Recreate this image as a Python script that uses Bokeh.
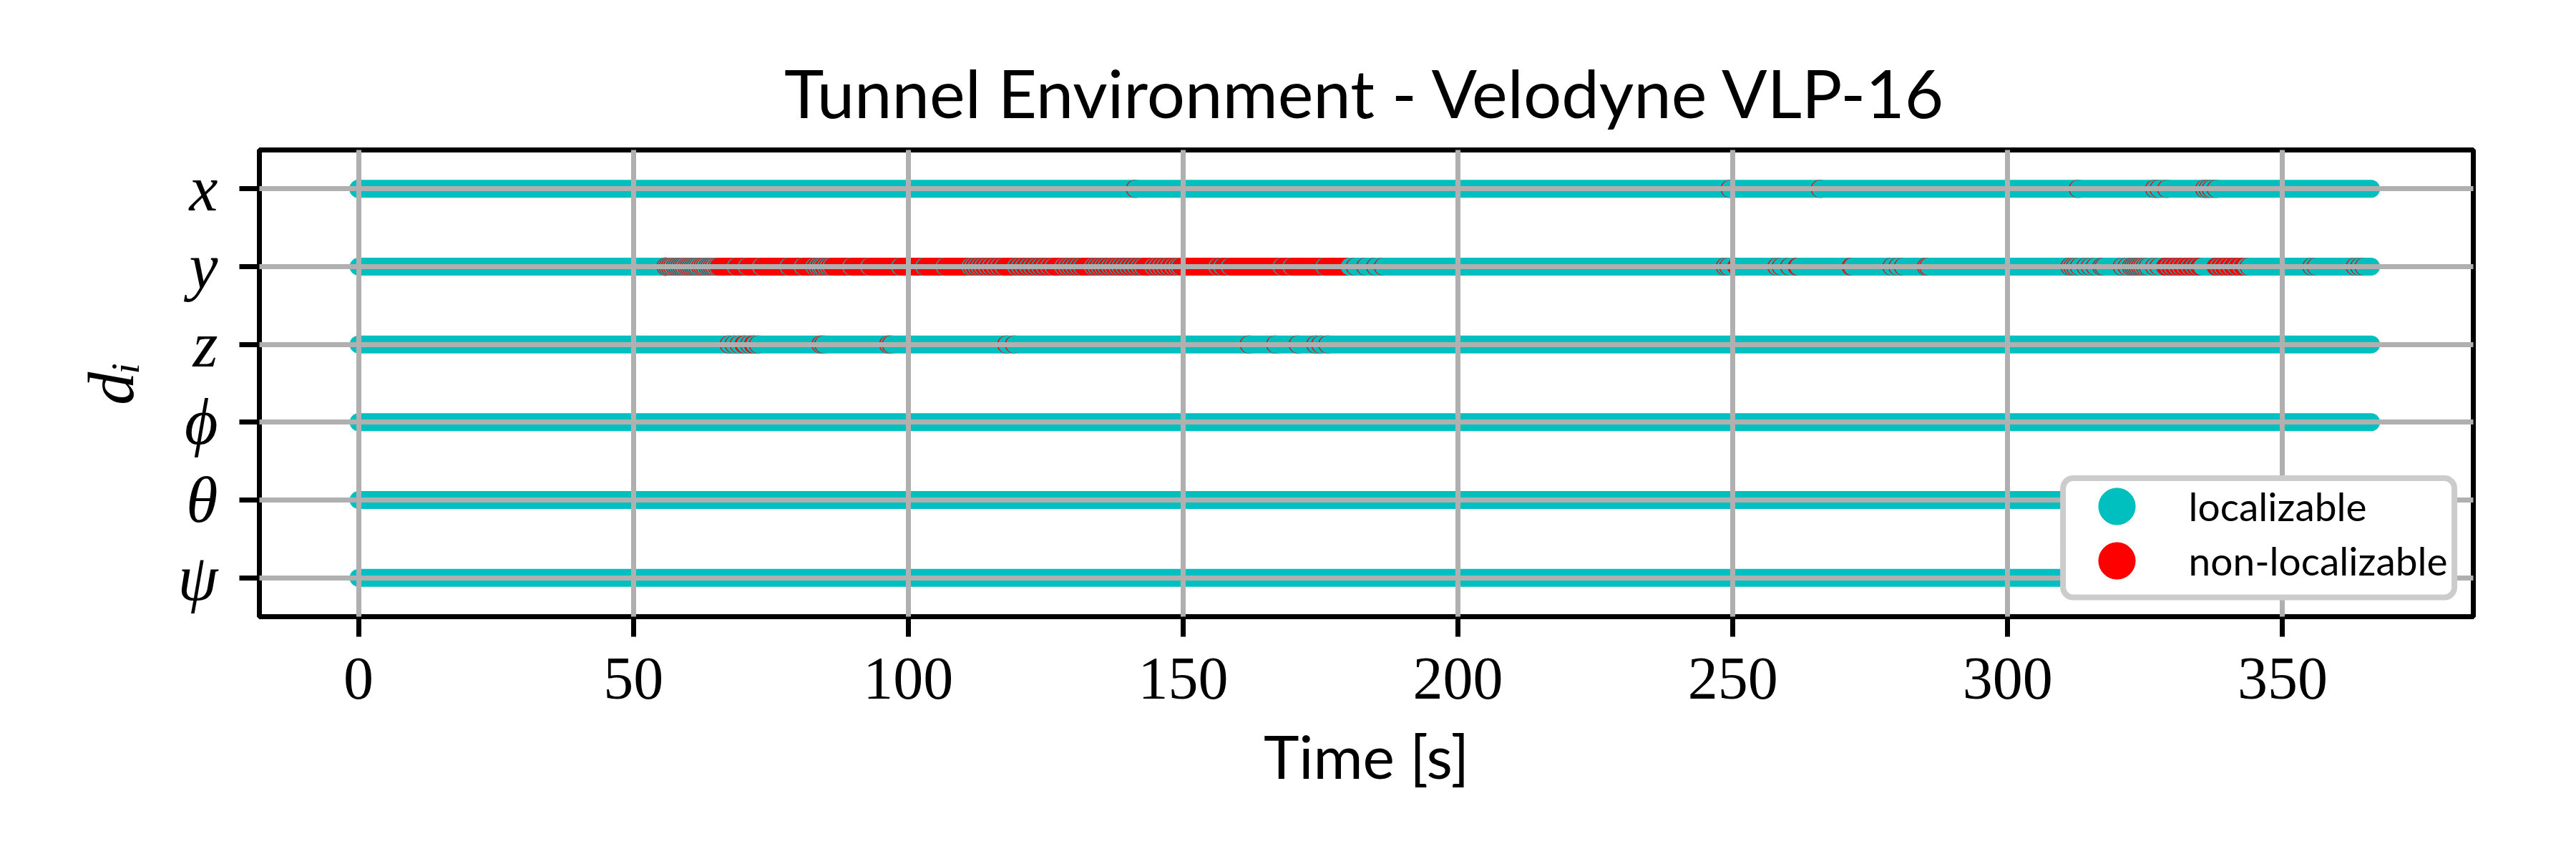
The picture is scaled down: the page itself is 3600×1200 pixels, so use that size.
from bokeh.plotting import figure
from bokeh.models import (Range1d, FixedTicker, Legend, LegendItem,
                          BoxAnnotation, ColumnDataSource)
from bokeh.embed import file_html
from bokeh.resources import INLINE

# ---------------- data ----------------
TITLE = "Tunnel Environment - Velodyne VLP-16"
DIMENSIONS = ["x", "y", "z", "ϕ", "θ", "ψ"]
X_TICKS = [0, 50, 100, 150, 200, 250, 300, 350]
T_START = 0.0
T_END = 366.1
SAMPLE = 0.2   # duration of one brief sample [s]

# long non-localizable spans [s] per dimension
SPANS_X = []
SPANS_Y = [(65.5, 180.3), (328.6, 335.4), (337.8, 343.4)]
SPANS_Z = []

# brief localizable samples inside the non-localizable spans [s]
LOC_IN_SPAN_Y = [68.6, 70.6, 73.2, 78.2, 80.8, 82.9, 83.5, 84.0, 84.4, 85.0, 85.5,
                 86.0, 89.6, 92.9, 98.5, 102.9, 106.6, 111.3, 111.8, 112.4, 113.0,
                 113.6, 114.3, 115.0, 115.8, 116.5, 117.3, 119.6, 120.3, 121.0,
                 121.8, 122.5, 123.3, 124.0, 124.8, 125.6, 126.4, 128.2, 128.9,
                 129.5, 130.2, 130.9, 131.6, 133.6, 134.2, 134.8, 135.4, 136.0,
                 136.7, 137.3, 138.0, 138.6, 139.3, 140.0, 140.7, 141.4, 142.1,
                 142.7, 144.6, 145.3, 146.0, 146.7, 147.4, 148.2, 148.9, 149.4,
                 156.2, 157.1, 158.5, 167.9, 169.7, 175.7,
                 329.3, 330.0, 330.8, 331.5, 332.3, 333.1, 333.9, 334.6,
                 338.4, 339.1, 339.9, 340.7, 341.6, 342.5]

# brief non-localizable samples [s]
NONLOC_X = [141.2, 249.4, 265.8, 312.7, 326.6, 327.4, 328.8, 335.7, 336.3,
            336.9, 337.8]
NONLOC_Y = [55.8, 56.2, 56.6, 57.0, 57.5, 57.9, 58.3, 58.7, 59.1, 59.6, 60.0,
            60.4, 60.8, 61.2, 61.6, 62.1, 62.5, 62.9, 63.4, 63.8, 64.2, 64.6,
            65.1, 181.2, 183.1, 184.9, 186.3, 248.5, 249.1, 250.6, 250.8, 257.9,
            258.7, 260.2, 261.6, 261.8, 271.4, 271.6, 278.8, 279.9, 280.9,
            285.1, 285.5, 311.2, 311.7, 312.2, 312.9, 314.1, 314.9, 315.8,
            317.0, 317.4, 320.7, 321.6, 322.4, 322.8, 323.2, 323.6, 324.0,
            324.4, 324.9, 325.4, 326.6, 327.4, 343.8, 355.2, 356.0, 363.1,
            363.9, 364.7]
NONLOC_Z = [67.3, 68.2, 69.1, 70.0, 70.2, 71.0, 71.7, 71.9, 72.6, 84.0, 84.5,
            96.3, 96.8, 117.8, 119.2, 161.9, 166.7, 170.8, 174.0, 174.9, 176.2]

ROWS = [
    (SPANS_X, [], NONLOC_X),
    (SPANS_Y, LOC_IN_SPAN_Y, NONLOC_Y),
    (SPANS_Z, [], NONLOC_Z),
    ([], [], []),   # phi
    ([], [], []),   # theta
    ([], [], []),   # psi
]

CYAN = "#00bfbf"
RED = "#ff0000"

# ------------- build ordered segments (time order, like a scatter) -------------
x0s, x1s, ys, cols = [], [], [], []
first_red = None
for row, (spans, loc_in, nonloc) in enumerate(ROWS):
    reds = []
    for a, b in spans:
        cuts = sorted(t for t in loc_in if a < t < b)
        cur = a
        for t in cuts:
            reds.append((cur, t))
            cur = t + SAMPLE
        reds.append((cur, b))
    reds += [(t, t + SAMPLE) for t in nonloc]
    reds.sort()
    cur = T_START
    for a, b in reds:
        if a > cur:
            x0s.append(cur); x1s.append(a); ys.append(row); cols.append(CYAN)
        x0s.append(a); x1s.append(b); ys.append(row); cols.append(RED)
        if first_red is None or a < first_red[0]:
            first_red = (a, row)
        cur = max(cur, b)
    x0s.append(cur); x1s.append(T_END); ys.append(row); cols.append(CYAN)

src = ColumnDataSource(dict(x0=x0s, x1=x1s, y=ys, color=cols))

W, H = 3584, 1184
p = figure(width=W, height=H, output_backend="svg", toolbar_location=None,
           x_range=Range1d(-18.04, 384.7), y_range=Range1d(5.5, -0.5),
           min_border_left=362, min_border_right=128,
           min_border_top=209, min_border_bottom=323,
           background_fill_color="white", border_fill_color="white")

BAND = 25
# legend marker renderers (hidden underneath the bands)
r_loc = p.scatter(x=[T_START], y=[0], marker="circle", size=BAND,
                  fill_color=CYAN, line_color=CYAN)
r_non = p.scatter(x=[first_red[0]], y=[first_red[1]], marker="circle", size=BAND,
                  fill_color=RED, line_color=RED)

p.segment(x0="x0", y0="y", x1="x1", y1="y", source=src, line_color="color",
          line_width=BAND, line_cap="round")

# title
p.title.text = TITLE
p.title.align = "center"
p.title.text_font = "Lato"
p.title.text_font_size = "94px"
p.title.text_font_style = "normal"
p.title.text_color = "black"
p.title.standoff = 50

# axes
p.xaxis.ticker = FixedTicker(ticks=X_TICKS)
p.yaxis.ticker = FixedTicker(ticks=list(range(len(DIMENSIONS))))
p.yaxis.major_label_overrides = {i: d for i, d in enumerate(DIMENSIONS)}
for ax in (p.xaxis[0], p.yaxis[0]):
    ax.axis_line_color = None
    ax.major_tick_line_color = "black"
    ax.major_tick_line_width = 7
    ax.major_tick_out = 28
    ax.major_tick_in = 0
    ax.minor_tick_line_color = None
    ax.major_label_text_color = "black"
    ax.major_label_text_font = "Liberation Serif"
    ax.major_label_text_font_size = "84px"
    ax.axis_label_text_color = "black"
    ax.axis_label_text_font_size = "84px"

p.xaxis.axis_label = "Time [s]"
p.xaxis.axis_label_text_font = "Lato"
p.xaxis.axis_label_text_font_style = "normal"
p.xaxis.major_label_standoff = 30
p.xaxis.axis_label_standoff = 26

p.yaxis.axis_label = "dᵢ"
p.yaxis.axis_label_text_font = "Liberation Serif"
p.yaxis.axis_label_text_font_style = "italic"
p.yaxis.axis_label_text_font_size = "92px"
p.yaxis.major_label_text_font_style = "italic"
p.yaxis.major_label_text_font_size = "90px"
p.yaxis.major_label_standoff = 30
p.yaxis.axis_label_standoff = 40

# frame / grid
p.outline_line_color = "black"
p.outline_line_width = 7
p.outline_line_alpha = 1.0
p.grid.grid_line_color = "#b0b0b0"
p.grid.grid_line_width = 7
p.grid.level = "guide"

# legend box
box = BoxAnnotation(left=2520.6, right=3067.6, bottom=27, top=193.5,
                    left_units="screen", right_units="screen",
                    top_units="screen", bottom_units="screen",
                    fill_color="white", fill_alpha=1.0,
                    line_color="#cccccc", line_width=8, line_alpha=1.0)
try:
    box.border_radius = 14
except Exception:
    pass
p.add_layout(box)

common = dict(glyph_width=128, glyph_height=128, spacing=0, padding=0, margin=0,
              label_standoff=37, border_line_color=None,
              background_fill_alpha=0.0, label_text_font="Lato",
              label_text_font_size="55px", label_text_color="black",
              inactive_fill_alpha=0.0)
leg1 = Legend(items=[LegendItem(label="localizable", renderers=[r_loc])],
              location=(2531.6, 90), **common)
leg2 = Legend(items=[LegendItem(label="non-localizable", renderers=[r_non])],
              location=(2531.6, 14), **common)
p.add_layout(leg1)
p.add_layout(leg2)

open("out.html", "w").write(file_html(p, INLINE))
